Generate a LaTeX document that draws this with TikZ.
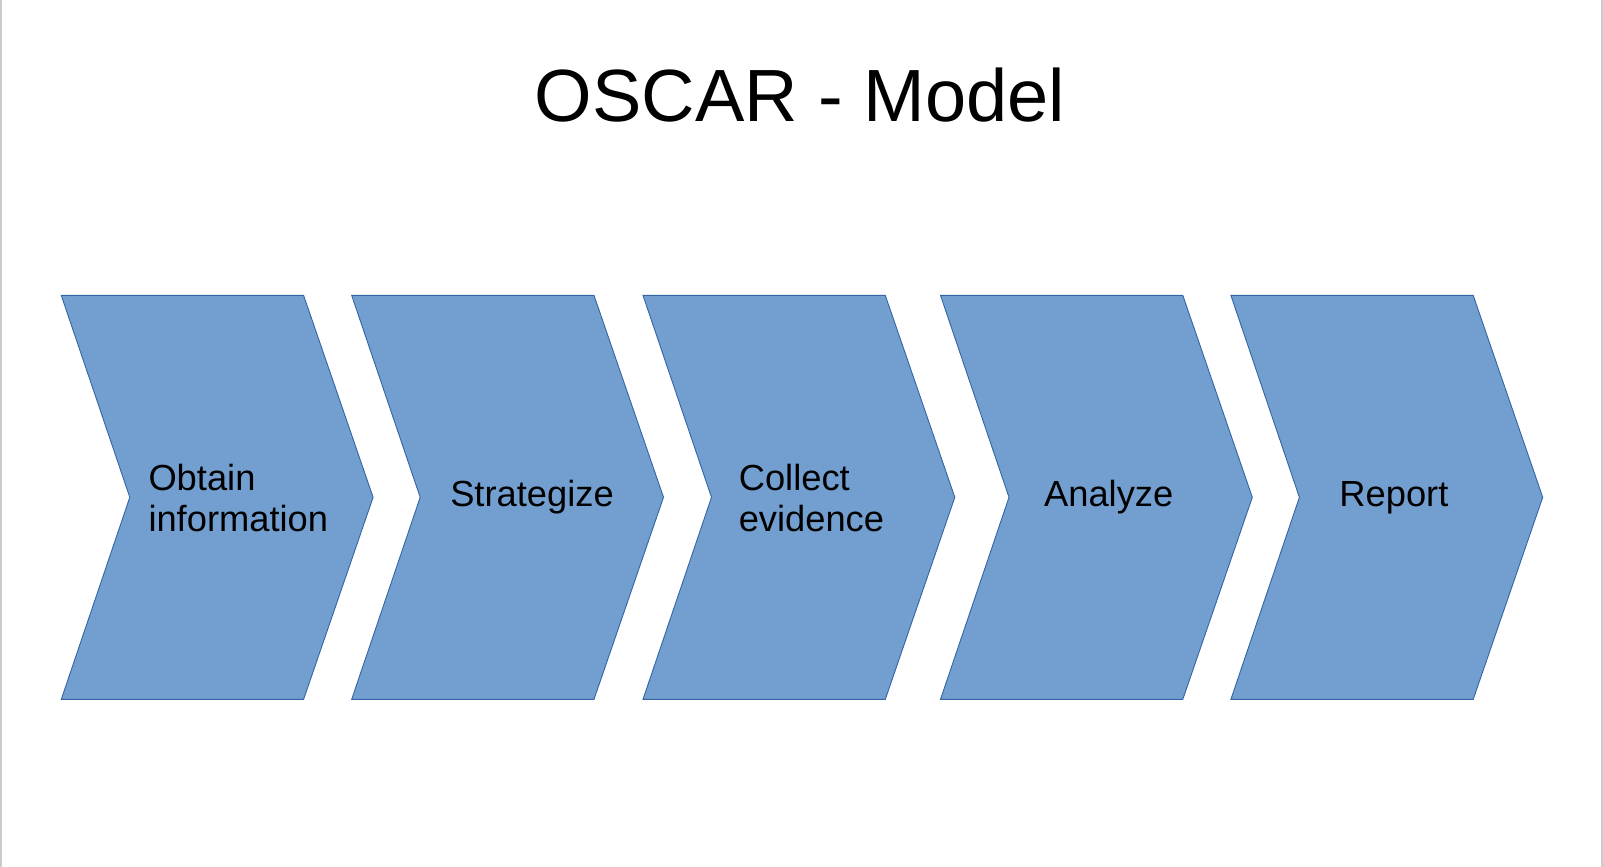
\documentclass[tikz,border=0pt]{standalone}
\usepackage{fontspec}
\setmainfont{Liberation Sans}
\definecolor{chevfill}{HTML}{729FCF}
\definecolor{chevline}{HTML}{3465A4}
\definecolor{pageedge}{HTML}{CCCCCC}
\begin{document}
\begin{tikzpicture}[x=1pt,y=-1pt,
  chevron/.style={fill=chevfill,draw=chevline,line width=0.9pt,line join=miter},
  label/.style={inner sep=0pt,outer sep=0pt,font=\fontsize{36.3}{41}\selectfont,text=black,align=left},
  titletext/.style={inner sep=0pt,outer sep=0pt,font=\fontsize{74}{84}\selectfont,text=black}]
\useasboundingbox (0,0) rectangle (1603,867);
\fill[white] (0,0) rectangle (1603,867);
\draw[pageedge,line width=1.5pt] (1,0) -- (1,867);
\draw[pageedge,line width=1.5pt] (1602,0) -- (1602,867);
% chevrons
\foreach \x in {61.3,351.7,643.0,940.5,1230.9}{
  \draw[chevron] (\x,295.4) -- ++(242.3,0) -- (\x+311.8,497.3) -- (\x+242.3,699.3)
     -- (\x,699.3) -- (\x+68.5,497.3) -- cycle;
}
\node[titletext,anchor=base] (title) at (800,121) {OSCAR - Model};
\node[label,anchor=base west] (obtain) at (148.5,531.7) {Obtain\\information};
\node[label,anchor=base] (strat) at (532,506.7) {Strategize};
\node[label,anchor=base west] (collect) at (738.8,531.7) {Collect\\evidence};
\node[label,anchor=base] (analyze) at (1108.7,506.7) {Analyze};
\node[label,anchor=base] (report) at (1393.9,506.7) {Report};
\end{tikzpicture}
\end{document}
